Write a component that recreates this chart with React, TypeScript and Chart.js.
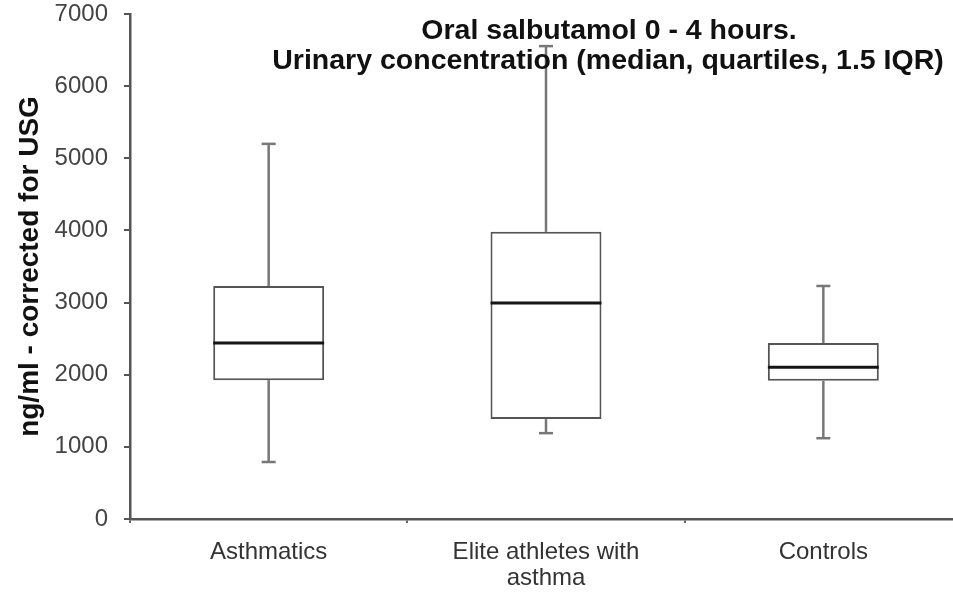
import React, { useEffect, useRef } from "react";
import { Chart, registerables } from "chart.js";

Chart.register(...registerables);

const categories: string[][] = [["Asthmatics"], ["Elite athletes with", "asthma"], ["Controls"]];
const whiskerLow = [790, 1190, 1120];
const q1 = [1925, 1385, 1915];
const median = [2440, 2995, 2105];
const q3 = [3230, 3980, 2440];
const whiskerHigh = [5200, 6555, 3230];
const yTickValues = [0, 1000, 2000, 3000, 4000, 5000, 6000, 7000];
const titleLines = ["Oral salbutamol 0 - 4 hours.", "Urinary concentration (median, quartiles, 1.5 IQR)"];
const yAxisTitle = "ng/ml - corrected for USG";

const FONT = "'Liberation Sans', Arial, sans-serif";

const boxPlotPlugin = {
  id: "boxPlotParts",
  beforeDatasetsDraw(chart: any) {
    const ctx = chart.ctx;
    const xs = chart.scales.x;
    const ys = chart.scales.y;
    ctx.save();
    ctx.strokeStyle = "#777";
    ctx.lineWidth = 2.5;
    categories.forEach((_, i) => {
      const cx = xs.getPixelForValue(i);
      const pairs = [
        [q3[i], whiskerHigh[i]],
        [q1[i], whiskerLow[i]],
      ];
      for (const [from, to] of pairs) {
        const y0 = ys.getPixelForValue(from);
        const y1 = ys.getPixelForValue(to);
        ctx.beginPath();
        ctx.moveTo(cx, y0);
        ctx.lineTo(cx, y1);
        ctx.stroke();
        ctx.beginPath();
        ctx.moveTo(cx - 7, y1);
        ctx.lineTo(cx + 7, y1);
        ctx.stroke();
      }
    });
    ctx.restore();
  },
  afterDatasetsDraw(chart: any) {
    const ctx = chart.ctx;
    const ys = chart.scales.y;
    const meta = chart.getDatasetMeta(0);
    ctx.save();
    ctx.strokeStyle = "#151515";
    ctx.lineWidth = 3;
    meta.data.forEach((bar: any, i: number) => {
      const py = ys.getPixelForValue(median[i]);
      ctx.beginPath();
      ctx.moveTo(bar.x - bar.width / 2, py);
      ctx.lineTo(bar.x + bar.width / 2, py);
      ctx.stroke();
    });
    ctx.restore();
  },
  afterDraw(chart: any) {
    const ctx = chart.ctx;
    const left = chart.chartArea.left;
    ctx.save();
    ctx.fillStyle = "#111";
    ctx.font = `bold 28.5px ${FONT}`;
    ctx.textAlign = "center";
    ctx.textBaseline = "alphabetic";
    ctx.fillText(titleLines[0], left + 479, 39);
    ctx.fillText(titleLines[1], left + 478, 69);
    ctx.restore();
  },
};

export default function App() {
  const canvasRef = useRef<HTMLCanvasElement | null>(null);

  useEffect(() => {
    if (!canvasRef.current) return;
    const chart = new Chart(canvasRef.current, {
      type: "bar",
      data: {
        labels: categories,
        datasets: [
          {
            data: q1.map((v, i) => [v, q3[i]]) as any,
            backgroundColor: "#ffffff",
            borderColor: "#555",
            borderWidth: 2,
            borderSkipped: false,
            barPercentage: 0.4,
            categoryPercentage: 1,
          },
        ],
      },
      options: {
        animation: false,
        responsive: false,
        devicePixelRatio: 1,
        layout: { autoPadding: false, padding: { top: 14, right: 10, left: 0, bottom: 0 } },
        plugins: {
          legend: { display: false },
          tooltip: { enabled: false },
          title: { display: false },
        },
        scales: {
          x: {
            offset: true,
            grid: {
              offset: true,
              drawOnChartArea: false,
              drawTicks: true,
              tickLength: 4,
              color: "#666",
              lineWidth: 2,
            },
            border: { display: true, color: "#555", width: 2.5 },
            ticks: {
              color: "#333",
              font: { family: FONT, size: 24, lineHeight: 1.1 },
              padding: 16,
              maxRotation: 0,
              autoSkip: false,
            },
            afterFit(scale: any) {
              scale.height = 75;
              scale.paddingLeft = 0;
              scale.paddingRight = 0;
            },
          },
          y: {
            min: 0,
            max: 7000,
            afterBuildTicks(scale: any) {
              scale.ticks = yTickValues.map((v) => ({ value: v }));
            },
            grid: {
              drawOnChartArea: false,
              drawTicks: true,
              tickLength: 6,
              color: "#555",
              lineWidth: 2,
            },
            border: { display: true, color: "#555", width: 2.5 },
            ticks: {
              color: "#444",
              font: { family: FONT, size: 24 },
              padding: 16,
              callback: (value: any) => String(value),
            },
            title: {
              display: true,
              text: yAxisTitle,
              color: "#111",
              font: { family: FONT, size: 28, weight: "bold" },
              padding: { top: 13, bottom: 0 },
            },
            afterFit(scale: any) {
              scale.width = 130;
              scale.paddingTop = 0;
              scale.paddingBottom = 0;
            },
          },
        },
      },
      plugins: [boxPlotPlugin],
    });
    return () => chart.destroy();
  }, []);

  return (
    <div style={{ position: "absolute", left: 0, top: 0, width: 953, height: 594, overflow: "hidden", background: "#fff" }}>
      <canvas ref={canvasRef} width={972} height={594} style={{ width: 972, height: 594, display: "block" }} />
    </div>
  );
}
